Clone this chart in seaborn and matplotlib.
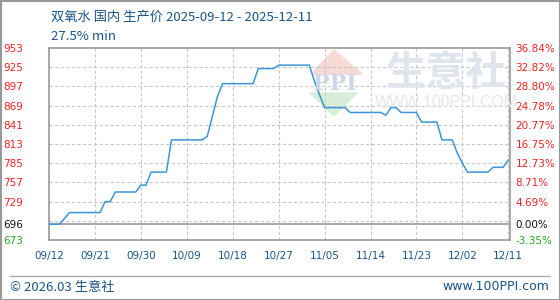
import numpy as np
import pandas as pd
import matplotlib
matplotlib.use("Agg")
import matplotlib.pyplot as plt
from matplotlib.lines import Line2D
from matplotlib.patches import Polygon, Rectangle
import seaborn as sns

# ---- data ----
start_date = "2025-09-12"
end_date = "2025-12-11"
prices = [696, 696, 696, 704, 713, 713, 713, 713, 713, 713,
          713, 729, 729, 743, 743, 743, 743, 743, 753, 753,
          772, 772, 772, 772, 819, 819, 819, 819, 819, 819,
          819, 824, 853, 882, 901, 901, 901, 901, 901, 901,
          901, 923, 923, 923, 923, 928, 928, 928, 928, 928,
          928, 928, 905, 885, 866, 866, 866, 866, 866, 859,
          859, 859, 859, 859, 859, 859, 855, 866, 866, 859,
          859, 859, 859, 845, 845, 845, 845, 819, 819, 819,
          800, 785, 772, 772, 772, 772, 772, 779, 779, 779,
          790]
left_ticks = [953, 925, 897, 869, 841, 813, 785, 757, 729, 696, 673]
right_labels = ["36.84%", "32.82%", "28.80%", "24.78%", "20.77%", "16.75%",
                "12.73%", "8.71%", "4.69%", "0.00%", "-3.35%"]
grid_levels = [925, 897, 869, 841, 813, 785, 757, 729, 701]
x_tick_labels = ["09/12", "09/21", "09/30", "10/09", "10/18", "10/27",
                 "11/05", "11/14", "11/23", "12/02", "12/11"]
title_text = "双氧水 国内 生产价 2025-09-12 - 2025-12-11"
subtitle_text = "27.5% min"
footer_left = "© 2026.03 生意社"
footer_right = "www.100PPI.com"

dates = pd.date_range(start_date, end_date, freq="D")
df = pd.DataFrame({"date": dates, "price": prices})

sns.set_theme(style="white")
plt.rcParams["font.family"] = ["Noto Sans CJK SC", "DejaVu Sans"]

fig = plt.figure(figsize=(5.6, 3.0), dpi=100)
ax = fig.add_axes([49/560, 1-240/300, 461/560, 192/300])

# watermark
fig.add_artist(Polygon([[311/560, 1-74/300], [334/560, 1-50/300], [362/560, 1-74/300]],
                       closed=True, transform=fig.transFigure, color="#f7d9d5", zorder=0))
fig.add_artist(Polygon([[310/560, 1-93/300], [334/560, 1-116/300], [357/560, 1-93/300]],
                       closed=True, transform=fig.transFigure, color="#d9eed9", zorder=0))
fig.text(335/560, 1-84/300, "PPI", fontsize=16, color="#cdd6e6", ha="center", va="center",
         fontweight="bold", family="DejaVu Serif", zorder=0)
fig.text(446/560, 1-73/300, "生意社", fontsize=29, color="#dfe4ed", ha="center", va="center",
         fontweight="bold", zorder=0)
fig.text(446/560, 1-103/300, "WWW.100PPI.COM", fontsize=11.5, color="#e6e6e6", ha="center",
         va="center", family="Liberation Sans", zorder=0)
ax.patch.set_alpha(0)

sns.lineplot(data=df, x="date", y="price", ax=ax, color="#3a96d8", linewidth=1.1, zorder=3)

x0 = pd.Timestamp(start_date)
x1 = pd.Timestamp(end_date) + pd.Timedelta(hours=8)
ax.set_xlim(x0, x1)
ax.set_ylim(673, 953)

tick_dates = pd.date_range(start_date, end_date, freq="9D")
ax.set_xticks(tick_dates)
ax.set_xticklabels(x_tick_labels)
for d in tick_dates[1:]:
    ax.axvline(d, color="#c8c8c8", linestyle=(0, (3, 2)), linewidth=0.8, zorder=1)
for g in grid_levels:
    ax.axhline(g, color="#c8c8c8", linestyle=(0, (3, 2)), linewidth=0.8, zorder=1)
ax.axhline(696, color="#999999", linewidth=1.2, zorder=2)

ax.set_xlabel("")
ax.set_ylabel("")
for s in ax.spines.values():
    s.set_color("#999999")
    s.set_linewidth(1.2)
    s.set_visible(True)

label_colors = ["#ee2222"] * 9 + ["#111111", "#22aa22"]
ax.set_yticks(left_ticks)
ax.set_yticklabels([str(v) for v in left_ticks])
ax.tick_params(axis="y", length=0, pad=33, labelsize=7.5)
for lab, c in zip(ax.get_yticklabels(), label_colors):
    lab.set_color(c)
    lab.set_ha("left")
    lab.set_family("DejaVu Sans")
ax.tick_params(axis="x", length=0, pad=8, labelsize=7.5, labelcolor="#1a5585")
for lab in ax.get_xticklabels():
    lab.set_family("DejaVu Sans")

ax2 = ax.twinx()
ax2.set_ylim(673, 953)
ax2.set_yticks(left_ticks)
ax2.set_yticklabels(right_labels)
ax2.tick_params(axis="y", length=0, pad=4, labelsize=7.5)
for lab, c in zip(ax2.get_yticklabels(), label_colors):
    lab.set_color(c)
    lab.set_family("DejaVu Sans")
ax2.grid(False)
for s in ax2.spines.values():
    s.set_visible(False)

# titles
fig.text(51/560, 1-17/300, title_text, fontsize=9.5, color="#1a5585", ha="left", va="center")
fig.text(51/560, 1-36/300, subtitle_text, fontsize=9.5, color="#1a5585", ha="left", va="center")

# footer
fig.add_artist(Line2D([10/560, 550/560], [1-275.5/300, 1-275.5/300], transform=fig.transFigure,
                      color="#aaaaaa", linewidth=1.0))
fig.text(10/560, 1-287/300, footer_left, fontsize=9.5, color="#1a5585", ha="left", va="center")
fig.text(549/560, 1-287/300, footer_right, fontsize=9, color="#1a5585", ha="right", va="center",
         family="DejaVu Sans")
fig.add_artist(Rectangle((0.5/560, 0.5/300), 559/560, 299/300, transform=fig.transFigure,
                         fill=False, edgecolor="#999999", linewidth=1.5))

fig.savefig("out.png", dpi=100)
